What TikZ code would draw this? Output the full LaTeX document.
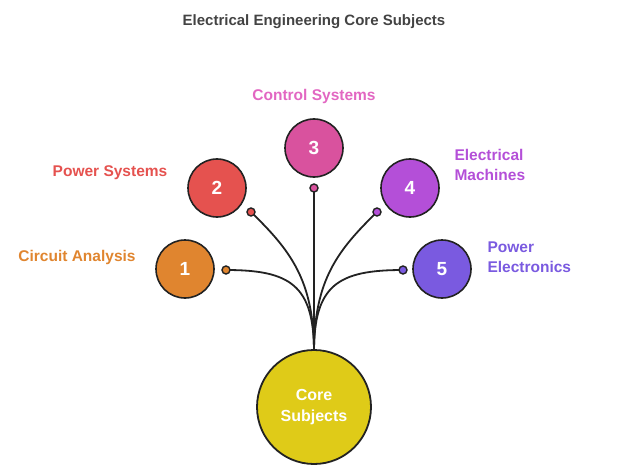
\documentclass[tikz,border=0pt]{standalone}
\usepackage{fontspec}
\setmainfont{Liberation Sans}
\definecolor{c1}{HTML}{E0852F}
\definecolor{c2}{HTML}{E5524F}
\definecolor{c3}{HTML}{D9529E}
\definecolor{t3}{HTML}{E267C2}
\definecolor{c4}{HTML}{B44FD8}
\definecolor{c5}{HTML}{7A5AE0}
\definecolor{cy}{HTML}{DFCB18}
\definecolor{ink}{HTML}{222222}
\begin{document}
\begin{tikzpicture}[x=1pt,y=-1pt,
  num/.style={circle,draw=ink,line width=1.6pt,minimum size=58pt,inner sep=0pt,text=white,font=\bfseries\fontsize{19}{20}\selectfont},
  dot/.style={circle,draw=ink,line width=1.4pt,minimum size=8pt,inner sep=0pt},
  lab/.style={font=\bfseries\fontsize{15.5}{16}\selectfont},
  wire/.style={ink,line width=1.8pt}]
\useasboundingbox (0,0) rectangle (629,476);
\node[font=\bfseries\fontsize{15}{16}\selectfont,text=ink!85] (t) at (314,22) {Electrical Engineering Core Subjects};
\node[num,fill=c1] (n1) at (185,269) {1};
\node[num,fill=c2] (n2) at (217,188) {2};
\node[num,fill=c3] (n3) at (314,148) {3};
\node[num,fill=c4] (n4) at (410,188) {4};
\node[num,fill=c5] (n5) at (442,269) {5};
\coordinate (top) at (314,352);
\draw[wire] (top) .. controls (314,285) and (290,270) .. (226,270) coordinate (e1);
\draw[wire] (top) .. controls (314,280) and (290,250) .. (251,212) coordinate (e2);
\draw[wire] (top) -- (314,188) coordinate (e3);
\draw[wire] (top) .. controls (314,280) and (338,250) .. (377,212) coordinate (e4);
\draw[wire] (top) .. controls (314,285) and (338,270) .. (403,270) coordinate (e5);
\node[dot,fill=c1] (d1) at (e1) {};
\node[dot,fill=c2] (d2) at (e2) {};
\node[dot,fill=c3] (d3) at (e3) {};
\node[dot,fill=c4] (d4) at (e4) {};
\node[dot,fill=c5] (d5) at (e5) {};
\node[circle,draw=ink,line width=1.8pt,fill=cy,minimum size=114pt,inner sep=0pt,text=white,align=center,font=\bfseries\fontsize{16}{21}\selectfont] (core) at (314,407) {Core\\Subjects};
\node[lab,text=c1] (l1) at (77,257) {Circuit Analysis};
\node[lab,text=c2] (l2) at (110,173) {Power Systems};
\node[lab,text=t3] (l3) at (314,96) {Control Systems};
\node[lab,text=c4,align=left,anchor=west,font=\bfseries\fontsize{15.5}{20}\selectfont] (l4) at (451,165) {Electrical\\Machines};
\node[lab,text=c5,align=left,anchor=west,font=\bfseries\fontsize{15.5}{20}\selectfont] (l5) at (484,257) {Power\\Electronics};
\end{tikzpicture}
\end{document}
